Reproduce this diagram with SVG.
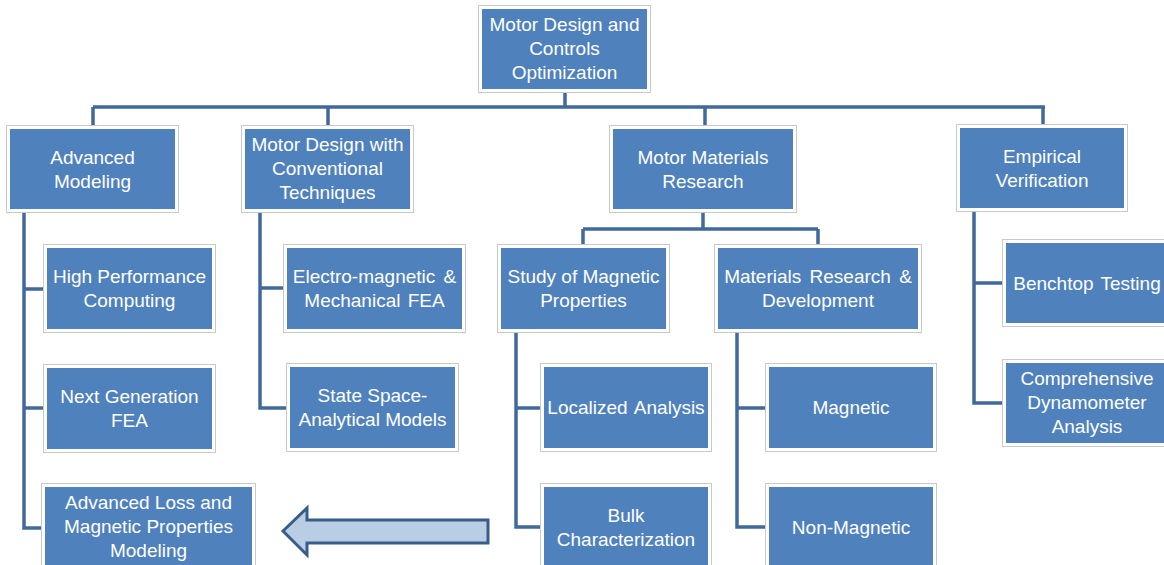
<svg xmlns="http://www.w3.org/2000/svg" width="1164" height="565" viewBox="0 0 1164 565">
<style>
.fr{fill:#ffffff;stroke:#c9c9c9;stroke-width:1}
.bx{fill:#4f81bd}
.t{font-family:"Liberation Sans",Arial,sans-serif;font-size:19px;fill:#ffffff;text-anchor:middle}
.c{fill:none;stroke:#41699b;stroke-width:3.5;stroke-linejoin:miter}
</style>
<rect width="1164" height="565" fill="#ffffff"/>
<g id="connectors">
<path class="c" d="M565 92V107M93 107H1045M93 107V125M328 107V125M705 107V125M1043 107V124"/>
<path class="c" d="M703 212V229M583 229H818M583 229V244M818 229V244"/>
<path class="c" d="M24 212V528H42M24 289H43M24 408H43"/>
<path class="c" d="M260 212V408H287M260 288H283"/>
<path class="c" d="M516 332V527H541M516 408H541"/>
<path class="c" d="M737 332V527H765M737 408H765"/>
<path class="c" d="M974 211V403H1003M974 283H1003"/>
</g>
<g id="root"><rect class="fr" x="478.5" y="5.5" width="172" height="87"/><rect class="bx" x="482" y="9" width="165" height="80"/>
<text class="t" x="564.5"><tspan x="564.5" y="31">Motor Design and</tspan><tspan x="564.5" y="55">Controls</tspan><tspan x="564.5" y="79">Optimization</tspan></text></g>
<g id="am"><rect class="fr" x="6.5" y="125.5" width="172" height="87"/><rect class="bx" x="10" y="129" width="165" height="80"/>
<text class="t"><tspan x="92.5" y="164">Advanced</tspan><tspan x="92.5" y="188">Modeling</tspan></text></g>
<g id="mdct"><rect class="fr" x="241.5" y="125.5" width="172" height="87"/><rect class="bx" x="245" y="129" width="165" height="80"/>
<text class="t"><tspan x="327.5" y="151">Motor Design with</tspan><tspan x="327.5" y="175">Conventional</tspan><tspan x="327.5" y="199">Techniques</tspan></text></g>
<g id="mmr"><rect class="fr" x="609.5" y="125.5" width="187" height="87"/><rect class="bx" x="613" y="129" width="180" height="80"/>
<text class="t"><tspan x="703" y="164">Motor Materials</tspan><tspan x="703" y="188">Research</tspan></text></g>
<g id="ev"><rect class="fr" x="956.5" y="124.5" width="171" height="87"/><rect class="bx" x="960" y="128" width="164" height="80"/>
<text class="t"><tspan x="1042" y="163">Empirical</tspan><tspan x="1042" y="187">Verification</tspan></text></g>
<g id="hpc"><rect class="fr" x="43.5" y="244.5" width="172" height="88"/><rect class="bx" x="47" y="248" width="165" height="81"/>
<text class="t"><tspan x="129.5" y="283">High Performance</tspan><tspan x="129.5" y="307">Computing</tspan></text></g>
<g id="ngf"><rect class="fr" x="43.5" y="364.5" width="172" height="88"/><rect class="bx" x="47" y="368" width="165" height="81"/>
<text class="t"><tspan x="129.5" y="403">Next Generation</tspan><tspan x="129.5" y="427">FEA</tspan></text></g>
<g id="alm"><rect class="fr" x="41.5" y="483.5" width="214" height="87"/><rect class="bx" x="45" y="487" width="207" height="80"/>
<text class="t"><tspan x="148.5" y="509">Advanced Loss and</tspan><tspan x="148.5" y="533">Magnetic Properties</tspan><tspan x="148.5" y="557">Modeling</tspan></text></g>
<g id="emf"><rect class="fr" x="283.5" y="244.5" width="182" height="88"/><rect class="bx" x="287" y="248" width="175" height="81"/>
<text class="t"><tspan x="374.5" y="283" word-spacing="3">Electro-magnetic &amp;</tspan><tspan x="374.5" y="307" word-spacing="2">Mechanical FEA</tspan></text></g>
<g id="ssa"><rect class="fr" x="286.5" y="363.5" width="172" height="88"/><rect class="bx" x="290" y="367" width="165" height="81"/>
<text class="t"><tspan x="372.5" y="402">State Space-</tspan><tspan x="372.5" y="426">Analytical Models</tspan></text></g>
<g id="smp"><rect class="fr" x="497.5" y="244.5" width="172" height="88"/><rect class="bx" x="501" y="248" width="165" height="81"/>
<text class="t"><tspan x="583.5" y="283">Study of Magnetic</tspan><tspan x="583.5" y="307">Properties</tspan></text></g>
<g id="mrd"><rect class="fr" x="714.5" y="244.5" width="207" height="88"/><rect class="bx" x="718" y="248" width="200" height="81"/>
<text class="t"><tspan x="818" y="283" word-spacing="3">Materials Research &amp;</tspan><tspan x="818" y="307">Development</tspan></text></g>
<g id="la"><rect class="fr" x="540.5" y="363.5" width="171" height="88"/><rect class="bx" x="544" y="367" width="164" height="81"/>
<text class="t" x="626" y="414" word-spacing="2">Localized Analysis</text></g>
<g id="bc"><rect class="fr" x="540.5" y="483.5" width="171" height="87"/><rect class="bx" x="544" y="487" width="164" height="80"/>
<text class="t"><tspan x="626" y="522">Bulk</tspan><tspan x="626" y="546">Characterization</tspan></text></g>
<g id="mag"><rect class="fr" x="765.5" y="363.5" width="171" height="88"/><rect class="bx" x="769" y="367" width="164" height="81"/>
<text class="t" x="851" y="414">Magnetic</text></g>
<g id="nm"><rect class="fr" x="765.5" y="483.5" width="171" height="87"/><rect class="bx" x="769" y="487" width="164" height="80"/>
<text class="t" x="851" y="534">Non-Magnetic</text></g>
<g id="bt"><rect class="fr" x="1002.5" y="239.5" width="172" height="87"/><rect class="bx" x="1006" y="243" width="165" height="80"/>
<text class="t" x="1087" y="290" word-spacing="2">Benchtop Testing</text></g>
<g id="cda"><rect class="fr" x="1002.5" y="359.5" width="172" height="87"/><rect class="bx" x="1006" y="363" width="165" height="80"/>
<text class="t"><tspan x="1087" y="385">Comprehensive</tspan><tspan x="1087" y="409">Dynamometer</tspan><tspan x="1087" y="433">Analysis</tspan></text></g>
<g id="arrow"><polygon points="283,531 307,508 307,520 488,520 488,543 307,543 307,555" fill="#b9cde5" stroke="#385d8a" stroke-width="3" stroke-linejoin="miter"/></g>
</svg>
